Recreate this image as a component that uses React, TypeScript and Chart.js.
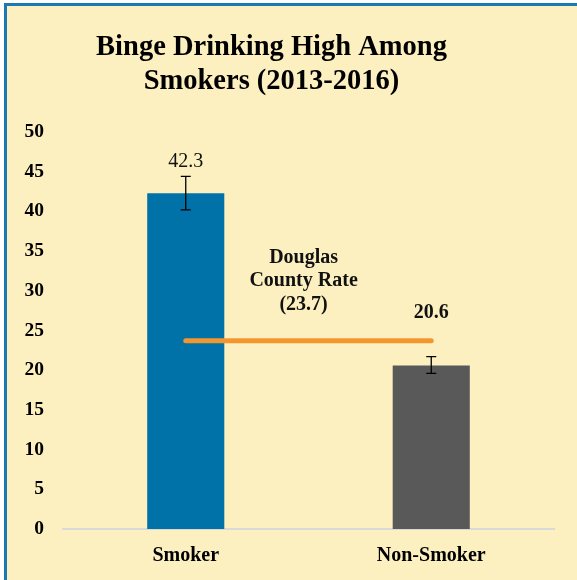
import React, { useEffect, useRef } from "react";
import { Chart, registerables } from "chart.js";

Chart.register(...registerables);

const categories = ["Smoker", "Non-Smoker"];
const rates = [42.3, 20.6];
const errLow = [40.2, 19.6];
const errHigh = [44.4, 21.7];
const countyRate = 23.7;
const refLine = [countyRate, countyRate];
const yTicks = [0, 5, 10, 15, 20, 25, 30, 35, 40, 45, 50];
const titleLines = ["Binge Drinking High Among", "Smokers (2013-2016)"];
const annotationLines = ["Douglas", "County Rate", "(23.7)"];

const FONT = "'Liberation Serif', 'Times New Roman', serif";

const overlayPlugin = {
  id: "overlay",
  afterDraw(chart: any) {
    const ctx = chart.ctx;
    ctx.save();
    ctx.fillStyle = "#000";
    ctx.textAlign = "center";
    ctx.textBaseline = "middle";
    ctx.font = `bold 28.5px ${FONT}`;
    const tx = (chart.chartArea.left + chart.chartArea.right) / 2 - 37;
    titleLines.forEach((t, k) => ctx.fillText(t, tx, 48 + k * 34));
    ctx.restore();
  },
  afterDatasetsDraw(chart: any) {
    const ctx = chart.ctx;
    const x = chart.scales.x;
    const y = chart.scales.y;
    ctx.save();
    // error bars
    ctx.strokeStyle = "#000";
    ctx.lineWidth = 1.3;
    for (let i = 0; i < rates.length; i++) {
      const cx = x.getPixelForValue(i);
      const yl = y.getPixelForValue(errLow[i]);
      const yh = y.getPixelForValue(errHigh[i]);
      ctx.beginPath();
      ctx.moveTo(cx, yl);
      ctx.lineTo(cx, yh);
      ctx.moveTo(cx - 5, yl);
      ctx.lineTo(cx + 5, yl);
      ctx.moveTo(cx - 5, yh);
      ctx.lineTo(cx + 5, yh);
      ctx.stroke();
    }
    // value labels
    ctx.fillStyle = "#111";
    ctx.textAlign = "center";
    ctx.textBaseline = "middle";
    ctx.font = `20px ${FONT}`;
    ctx.fillText(rates[0].toFixed(1), x.getPixelForValue(0), y.getPixelForValue(errHigh[0]) - 15);
    ctx.font = `bold 20px ${FONT}`;
    ctx.fillText(rates[1].toFixed(1), x.getPixelForValue(1), y.getPixelForValue(countyRate) - 28);
    // annotation
    const ax = x.getPixelForValue(0) + (x.getPixelForValue(1) - x.getPixelForValue(0)) * 0.48;
    const ay = y.getPixelForValue(countyRate);
    ctx.font = `bold 20px ${FONT}`;
    annotationLines.forEach((t, k) => {
      ctx.fillText(t, ax, ay - 83 + k * 23.5);
    });
    ctx.restore();
  },
};

export default function App() {
  const ref = useRef<HTMLCanvasElement>(null);
  useEffect(() => {
    document.body.style.margin = "0";
    const chart = new Chart(ref.current!, {
      type: "bar",
      data: {
        labels: categories,
        datasets: [
          {
            type: "line",
            data: refLine,
            borderColor: "#F4962F",
            borderWidth: 5,
            borderCapStyle: "round",
            pointRadius: 0,
            order: 0,
          } as any,
          {
            type: "bar",
            data: rates,
            backgroundColor: ["#0072A7", "#595959"],
            barPercentage: 0.314,
            categoryPercentage: 1,
            order: 1,
          },
        ],
      },
      options: {
        responsive: false,
        animation: false,
        layout: { padding: { top: 132, right: 23, bottom: 0, left: 0 } },
        plugins: {
          legend: { display: false },
          tooltip: { enabled: false },
          title: { display: false },
        },
        scales: {
          x: {
            grid: { display: false, drawTicks: false },
            border: { display: true, color: "#D9D9D9", width: 2 },
            ticks: { color: "#000", padding: 15, font: { family: FONT, size: 20, weight: "bold" } },
            afterFit(axis: any) {
              axis.height = 51;
            },
          },
          y: {
            min: 0,
            max: 50,
            afterBuildTicks(axis: any) {
              axis.ticks = yTicks.map((v) => ({ value: v }));
            },
            grid: { display: false, drawTicks: false },
            border: { display: false },
            ticks: { color: "#000", padding: 19, font: { family: FONT, size: 19.5, weight: "bold" } },
            afterFit(axis: any) {
              axis.width = 63;
            },
          },
        },
      },
      plugins: [overlayPlugin],
    });
    return () => chart.destroy();
  }, []);
  return (
    <div style={{ position: "absolute", left: 0, top: 0, width: 577, height: 580, background: "#fff", overflow: "hidden" }}>
      <div
        style={{
          position: "absolute",
          left: 4,
          top: 3,
          width: 600,
          height: 600,
          background: "#FDF0C0",
          borderLeft: "3px solid #1C78B0",
          borderTop: "3px solid #1C78B0",
        }}
      />
      <canvas ref={ref} width={577} height={580} style={{ position: "absolute", left: 0, top: 0 }} />
    </div>
  );
}
